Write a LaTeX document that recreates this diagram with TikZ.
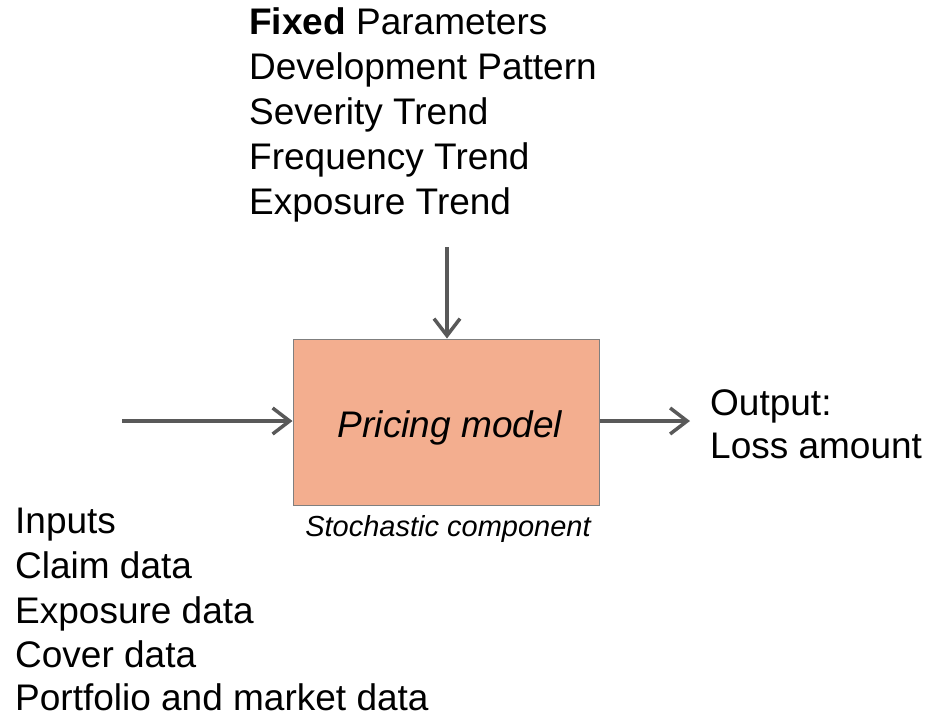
\documentclass[tikz,border=0pt]{standalone}
\usepackage{fontspec}
\setmainfont{Liberation Sans}
\usetikzlibrary{arrows.meta}
\definecolor{boxfill}{HTML}{F3AE8F}
\definecolor{boxline}{HTML}{7F7F7F}
\definecolor{arrowgray}{HTML}{595959}
\begin{document}
\begin{tikzpicture}[x=1pt,y=-1pt,
  lbl/.style={anchor=base west,inner sep=0pt,font=\fontsize{37}{45}\selectfont},
  flow/.style={draw=arrowgray,line width=3.5pt,
    -{Straight Barb[length=17pt,width=26pt,line width=3.5pt]}}]
\useasboundingbox (0,0) rectangle (930,718);

% fixed parameters list
\node[lbl] (fp1) at (249,34)  {\textbf{Fixed} Parameters};
\node[lbl] (fp2) at (249,79)  {Development Pattern};
\node[lbl] (fp3) at (249,124) {Severity Trend};
\node[lbl] (fp4) at (249,169) {Frequency Trend};
\node[lbl] (fp5) at (249,214) {Exposure Trend};

% central model box and its caption
\node[draw=boxline,fill=boxfill,line width=1pt,minimum width=306pt,minimum height=166pt,
      inner sep=0pt] (model) at (446,422) {};
\node[anchor=base,inner sep=0pt,font=\fontsize{37}{45}\selectfont\itshape] (modeltxt) at (450,437) {Pricing model};
\node[anchor=base,inner sep=0pt,font=\fontsize{29}{32}\selectfont\itshape] (stoch) at (448,536) {Stochastic component};

% input list
\node[lbl] (in1) at (15,533) {Inputs};
\node[lbl] (in2) at (15,578) {Claim data};
\node[lbl] (in3) at (15,623) {Exposure data};
\node[lbl] (in4) at (15,667) {Cover data};
\node[lbl] (in5) at (15,710) {Portfolio and market data};

% output
\node[lbl] (out1) at (710,415) {Output:};
\node[lbl] (out2) at (710,458) {Loss amount};

% connectors
\coordinate (topstart) at (447,247);
\coordinate (leftstart) at (122,421);
\coordinate (rightend) at (690,421);
\draw[flow] (topstart) -- (topstart |- model.north);
\draw[flow] (leftstart) -- (leftstart -| model.west);
\draw[flow] (model.east |- rightend) -- (rightend);
\end{tikzpicture}
\end{document}
